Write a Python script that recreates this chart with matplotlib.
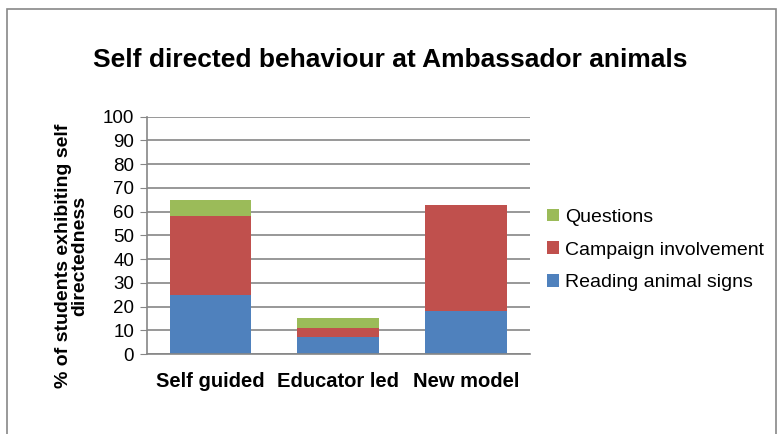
import numpy as np
import matplotlib.pyplot as plt
from matplotlib.patches import Rectangle

plt.rcParams['font.family'] = ['Liberation Sans', 'DejaVu Sans']

categories = ["Self guided", "Educator led", "New model"]
reading_signs = [25, 7, 18]
campaign = [33, 4, 45]
questions = [7, 4, 0]

fig = plt.figure(figsize=(7.81, 4.34), dpi=100)
ax = fig.add_axes([0.1878, 0.1843, 0.4908, 0.5468])

x = np.arange(len(categories))
width = 0.64
b1 = ax.bar(x, reading_signs, width, color="#4F81BD", label="Reading animal signs")
b2 = ax.bar(x, campaign, width, bottom=reading_signs, color="#C0504D", label="Campaign involvement")
bottom2 = np.array(reading_signs) + np.array(campaign)
b3 = ax.bar(x, questions, width, bottom=bottom2, color="#9BBB59", label="Questions")

ax.set_xlim(-0.5, len(categories) - 0.5)
ax.set_ylim(0, 100)
ax.set_yticks(range(0, 101, 10))
ax.yaxis.grid(True, color="#868686", linewidth=1.2)
ax.set_axisbelow(True)
for s in ["top", "right"]:
    ax.spines[s].set_visible(False)
ax.spines["left"].set_color("#868686")
ax.spines["bottom"].set_color("#868686")
ax.spines["left"].set_linewidth(1.2)
ax.spines["bottom"].set_linewidth(1.2)
ax.tick_params(axis="y", labelsize=13.5, length=5, color="#868686", pad=4)
ax.tick_params(axis="x", length=0, pad=13)
ax.set_xticks(x)
ax.set_xticklabels(categories, fontsize=14.5, fontweight="bold")

fig.text(0.5, 1 - 60 / 434, "Self directed behaviour at Ambassador animals",
         ha="center", va="center", fontsize=19, fontweight="bold")
fig.text(0.092, 1 - 256 / 434, "% of students exhibiting self\ndirectedness",
         ha="center", va="center", rotation=90, fontsize=14, fontweight="bold",
         linespacing=0.95)

fig.legend(handles=[b3, b2, b1], loc="center left", bbox_to_anchor=(0.701, 1 - 250 / 434),
           frameon=False, fontsize=14, handlelength=0.6, handleheight=0.6,
           handletextpad=0.3, labelspacing=0.82, borderaxespad=0, borderpad=0)

# chart border
fig.patches.append(Rectangle((7 / 781, -0.05), 769 / 781, 1.05 - 9 / 434,
                             transform=fig.transFigure, fill=False,
                             edgecolor="#888888", linewidth=1.2))

fig.savefig("out.png", dpi=100)
